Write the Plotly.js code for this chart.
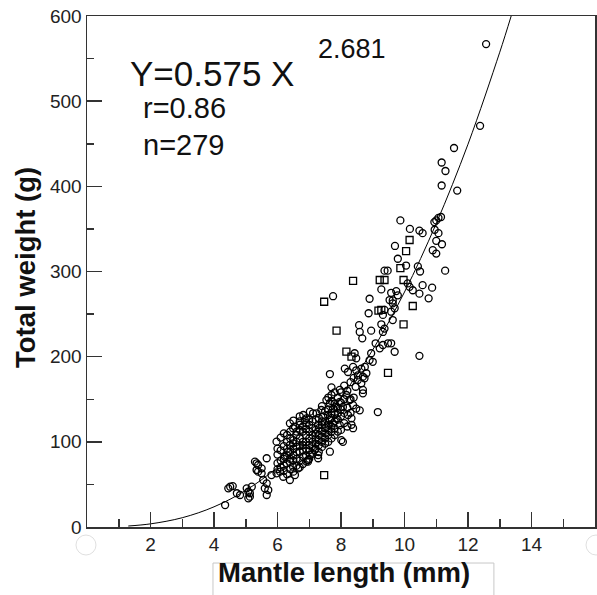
<!DOCTYPE html>
<html>
<head>
<meta charset="utf-8">
<script src="https://cdn.plot.ly/plotly-3.0.1.min.js"></script>
<style>html,body{margin:0;padding:0;background:#fff;}#chart{width:597px;height:595px;}</style>
</head>
<body>
<div id="chart"></div>
<script>
// Scatter points (Mantle length mm, Total weight g)
const circlesX = [12.57,12.38,11.56,11.17,11.29,11.17,11.66,11.15,11.07,11.00,10.94,9.87,10.17,10.47,10.57,10.95,11.07,9.70,11.00,11.18,9.79,10.89,11.00,10.05,10.42,10.49,11.28,9.37,9.47,10.10,9.27,9.58,9.74,10.16,10.26,10.47,10.57,10.87,7.75,8.90,9.79,9.63,10.76,9.53,9.63,9.69,9.58,9.37,9.32,8.87,8.57,8.59,8.67,8.95,9.27,9.37,9.32,9.63,9.09,9.22,9.32,9.48,9.58,9.69,8.43,8.48,8.95,8.90,9.00,10.47,8.12,8.22,8.38,8.48,8.64,8.75,8.53,8.69,8.80,7.65,8.74,8.53,8.64,8.46,8.69,8.69,7.70,7.96,8.17,8.27,8.38,8.48,8.59,9.16,7.54,7.65,7.75,7.86,7.96,8.06,8.22,8.33,6.81,6.91,7.02,7.23,7.38,7.44,7.59,7.65,7.75,7.86,7.96,7.54,7.28,6.39,6.55,6.70,8.33,8.38,8.01,8.06,7.65,7.28,6.96,
4.51,4.59,4.45,4.72,4.82,4.35,5.03,5.19,5.13,5.08,5.29,5.39,5.34,5.50,5.66,5.55,5.66,5.60,5.71,5.66,5.97,5.81,5.97,6.08,6.18,6.29,6.39,6.49,6.23,6.34,6.39,6.49,6.60,6.70,6.81,6.49,6.70,6.86,7.12,6.39,6.55,6.65,6.91,7.02,7.17,7.28,6.96,5.34,5.39,5.50,5.08,5.13,
6.0,6.0,6.0,6.0,6.1,6.1,6.1,6.1,6.2,6.2,6.2,6.2,6.2,6.3,6.3,6.3,6.3,6.3,6.4,6.4,6.4,6.4,6.4,6.5,6.5,6.5,6.5,6.5,6.5,6.6,6.6,6.6,6.6,6.6,6.6,6.7,6.7,6.7,6.7,6.7,6.7,6.8,6.8,6.8,6.8,6.8,6.8,6.9,6.9,6.9,6.9,6.9,6.9,7.0,7.0,7.0,7.0,7.0,7.0,7.0,7.1,7.1,7.1,7.1,7.1,7.1,7.2,7.2,7.2,7.2,7.2,7.2,7.3,7.3,7.3,7.3,7.3,7.3,7.4,7.4,7.4,7.4,7.4,7.4,7.4,7.5,7.5,7.5,7.5,7.5,7.5,7.6,7.6,7.6,7.6,7.6,7.6,7.7,7.7,7.7,7.7,7.7,7.7,7.7,7.8,7.8,7.8,7.8,7.8,7.8,7.9,7.9,7.9,7.9,7.9,8.0,8.0,8.0,8.0,8.0,8.1,8.1,8.1,8.1,8.2,8.2,8.2,8.3,8.3,8.3,8.4,8.4];
const circlesY = [567,471,445,428,418,401,395,364,363,360,358,360,350,348,345,349,345,330,336,332,315,325,321,307,306,300,301,301,301,286,279,275,277,282,278,274,284,281,271,268,272,266,268.5,266.5,262.6,256.8,252.8,255,249,251,237,229,221.5,230.5,238,233,229,243,215.7,209.8,213.7,215.7,215.7,205.8,204,198,204,196,194,201,186,182,188,184,186,188,178,176.5,180.5,179.6,174.6,172.6,168.7,164.7,160.9,157,164,161,155,149,143,139,137,135,149,145,139,141,147,141,131.5,127.6,131.5,127.6,135.4,133.5,137.4,129.5,131.5,125.6,121.7,127.6,119.8,117.8,119.8,121.7,117.8,119.8,120,116,102,100,88.4,80.7,76.7,
47.3,48,45.4,39.6,37.6,25.8,45.4,47.3,39.6,33.7,76.7,72.8,66.9,68.9,80.7,55.2,51.3,45.4,43.4,37.6,100.2,61,63,65,59,74.8,76.7,70.8,82.5,88.4,96.3,98.3,94.3,88.4,82.5,115.9,113.9,125.6,133.5,55.2,61,68.9,76.7,84.5,90.4,84.5,78.7,74.8,65,63,41.4,35.6,
68,75,85,92,70,78,90,105,66,72,80,95,110,62,84,92,100,108,68,80,88,104,112,65,78,84,92,102,125,72,80,88,100,108,112,70,78,95,104,124,130,74,90,96,100,112,118,84,92,100,108,115,122,80,90,96,104,112,120,126,86,95,100,108,116,124,92,98,104,110,114,126,88,96,102,108,116,128,94,100,106,112,120,124,142,98,104,110,116,124,136,100,108,114,120,138,152,104,112,118,128,134,148,155,108,116,124,132,145,158,112,126,134,140,152,114,130,138,146,158,122,134,150,166,118,140,160,134,150,170,152,175];
const squaresX = [10.16,10.05,9.87,8.38,9.22,9.37,9.97,7.47,10.26,9.18,9.27,7.86,9.97,8.17,8.33,9.48,7.47];
const squaresY = [337,324,304,289,290,290,290,264.5,259.5,254,255,230.5,238,206,200,181,61];
// Fitted curve: Y = 0.575 X^2.681
const curveX = [1.3,2,3,4,5,6,7,8,9,10,11,12,13,13.36];
const curveY = [1.16,3.69,10.9,23.7,43.0,70.1,106.0,151.8,208.1,275.9,356.4,449.5,557.5,600];
// Ticks
const xMajorTicks = [2,4,6,8,10,12,14];
const xMinorTicks = [1,3,5,7,9,11,13,15];
const yMajorTicks = [0,100,200,300,400,500,600];
const yMinorTicks = [50,150,250,350,450,550];

const marker = {size:7, color:'#000', line:{color:'#000', width:1.3}};
const traces = [
  {x:curveX, y:curveY, type:'scatter', mode:'lines', line:{color:'#000', width:1, shape:'spline'}, hoverinfo:'skip'},
  {x:circlesX, y:circlesY, type:'scatter', mode:'markers', marker:Object.assign({symbol:'circle-open'}, marker)},
  {x:squaresX, y:squaresY, type:'scatter', mode:'markers', marker:Object.assign({symbol:'square-open'}, marker)}
];
const tickFont = {family:'Arial, Liberation Sans, sans-serif', size:19, color:'#222'};
const axisCommon = {showgrid:false, zeroline:false, showline:true, linecolor:'#333', linewidth:1.5, mirror:true,
  ticks:'inside', ticklen:15, tickwidth:1.5, tickcolor:'#333', tickfont:tickFont, fixedrange:true};
const layout = {
  width:597, height:595, showlegend:false,
  margin:{l:87, r:2, t:16, b:68},
  paper_bgcolor:'#fff', plot_bgcolor:'#fff',
  xaxis:Object.assign({}, axisCommon, {range:[0,16], tickmode:'array', tickvals:xMajorTicks,
    minor:{tickvals:xMinorTicks, ticks:'inside', ticklen:8, tickwidth:1.5, tickcolor:'#333'}}),
  yaxis:Object.assign({}, axisCommon, {range:[0,600], tickmode:'array', tickvals:yMajorTicks,
    minor:{tickvals:yMinorTicks, ticks:'inside', ticklen:7, tickwidth:1.5, tickcolor:'#333'}}),
  annotations:[
    {text:'Y=0.575 X', xref:'paper', yref:'paper', x:0.080, y:0.888, xanchor:'left', yanchor:'middle', showarrow:false,
     font:{family:'Arial, Liberation Sans, sans-serif', size:35, color:'#111'}},
    {text:'2.681', xref:'paper', yref:'paper', x:0.450, y:0.935, xanchor:'left', yanchor:'middle', showarrow:false,
     font:{family:'Arial, Liberation Sans, sans-serif', size:27, color:'#111'}},
    {text:'r=0.86', xref:'paper', yref:'paper', x:0.106, y:0.820, xanchor:'left', yanchor:'middle', showarrow:false,
     font:{family:'Arial, Liberation Sans, sans-serif', size:29, color:'#111'}},
    {text:'n=279', xref:'paper', yref:'paper', x:0.106, y:0.748, xanchor:'left', yanchor:'middle', showarrow:false,
     font:{family:'Arial, Liberation Sans, sans-serif', size:29, color:'#111'}},
    {text:'<b>Mantle length (mm)</b>', xref:'paper', yref:'paper', x:0.506, y:-0.090, xanchor:'center', yanchor:'middle', showarrow:false,
     font:{family:'Arial, Liberation Sans, sans-serif', size:27.5, color:'#111'}},
    {text:'<b>Total weight (g)</b>', xref:'paper', yref:'paper', x:-0.120, y:0.507, xanchor:'center', yanchor:'middle', showarrow:false, textangle:-90,
     font:{family:'Arial, Liberation Sans, sans-serif', size:27.5, color:'#111'}}
  ],
  shapes:[
    {type:'rect', xref:'paper', yref:'paper', x0:0.248, x1:0.801, y0:-0.16, y1:-0.0705, line:{color:'#c8c8c8', width:1}, fillcolor:'rgba(0,0,0,0)', layer:'below'},
    {type:'circle', xref:'paper', yref:'paper', x0:-0.0217, x1:0.0177, y0:-0.0548, y1:-0.0157, line:{color:'#e0e0e0', width:1}},
    {type:'circle', xref:'paper', yref:'paper', x0:0.9823, x1:1.0217, y0:-0.0548, y1:-0.0157, line:{color:'#e0e0e0', width:1}}
  ]
};
Plotly.newPlot('chart', traces, layout, {displayModeBar:false, staticPlot:true});
</script>
</body>
</html>
